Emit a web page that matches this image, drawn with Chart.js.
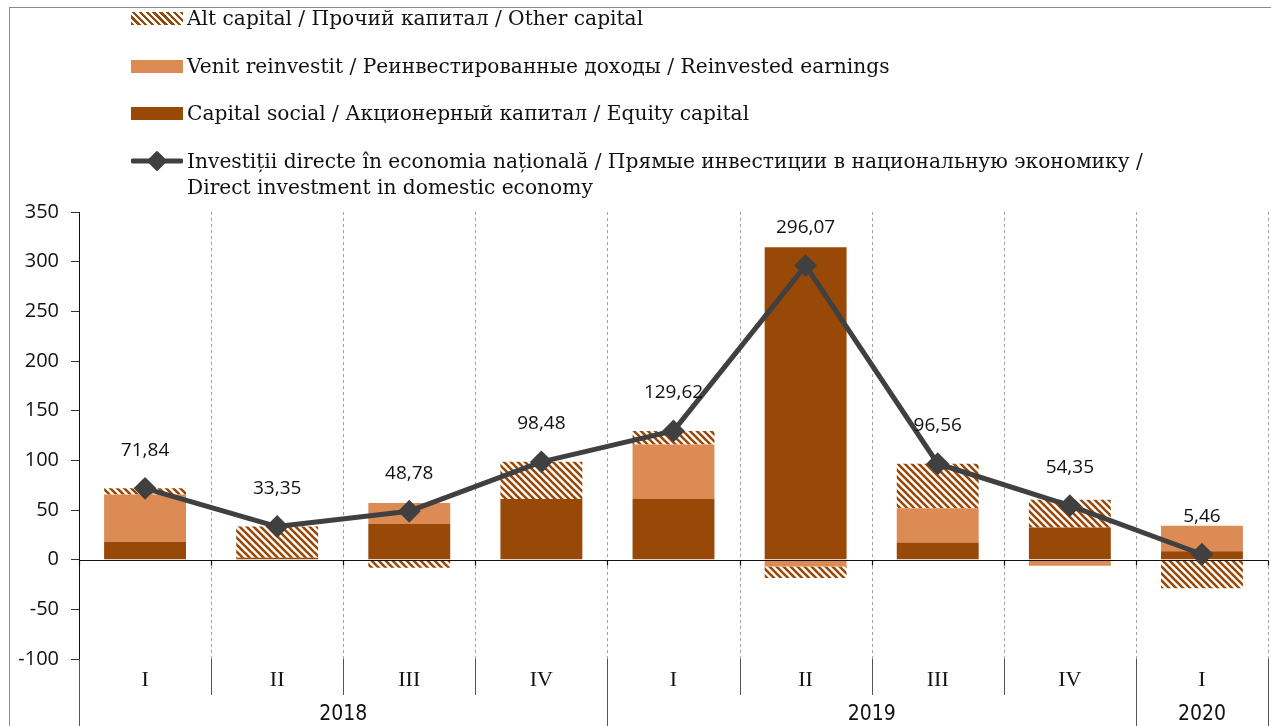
<!DOCTYPE html>
<html lang="ro">
<head>
<meta charset="UTF-8">
<title>Investiții directe în economia națională</title>
<script src="https://cdn.jsdelivr.net/npm/chart.js"></script>
<style>
  html, body { margin: 0; padding: 0; background: #fff; }
  #wrap { position: relative; width: 1271px; height: 726px; overflow: hidden; }
  #frame { position: absolute; left: 9px; top: 7px; width: 1300px; height: 800px;
           border-left: 1px solid #8c8c8c; border-top: 1px solid #8c8c8c; }
  #chart { position: absolute; left: 0; top: 0; }
  .leg { position: absolute; left: 131px; font-family: "DejaVu Serif", serif; font-size: 20.2px;
         line-height: 26px; color: #111; white-space: nowrap; }
  .leg .sw { position: absolute; left: 0; width: 52px; height: 13px; top: 7px; }
  .leg .txt { position: absolute; left: 56px; top: 0; }
  .hatch { background: repeating-linear-gradient(45deg, #984807 0 2.4px, #fff 2.4px 4.8px); }
</style>
</head>
<body>
<div id="wrap">
  <div id="frame"></div>
  <canvas id="chart" width="1271" height="726"></canvas>

  <div class="leg" style="top:5px"><div class="sw hatch"></div>
    <div class="txt">Alt capital / Прочий капитал / Other capital</div></div>
  <div class="leg" style="top:53px"><div class="sw" style="background:#dd8b54"></div>
    <div class="txt">Venit reinvestit / Реинвестированные доходы / Reinvested earnings</div></div>
  <div class="leg" style="top:100px"><div class="sw" style="background:#984807"></div>
    <div class="txt">Capital social / Акционерный капитал / Equity capital</div></div>
  <div class="leg" style="top:148px">
    <svg class="sw" style="height:26px;top:0" width="52" height="26">
      <line x1="2" y1="13" x2="50" y2="13" stroke="#404040" stroke-width="5" stroke-linecap="round"/>
      <polygon points="26,4 35,13 26,22 17,13" fill="#404040" stroke="#404040" stroke-width="2" stroke-linejoin="round"/>
    </svg>
    <div class="txt">Investiții directe în economia națională / Прямые инвестиции в национальную экономику /<br>Direct investment in domestic economy</div></div>
</div>

<script>
// quarters and years
const quarters = ['I', 'II', 'III', 'IV', 'I', 'II', 'III', 'IV', 'I'];
const years = ['2018', '2019', '2020'];
const yearSpans = [4, 4, 1];

// components (mil. USD)
const equityCapital = [18, 2, 36, 61, 61, 314.6, 17.4, 32.5, 8.4];
const reinvestedEarnings = [47.5, 0, 21, 0, 55, -6.8, 34.3, -6, 25.8];
const otherCapital = [6.34, 31.35, -8.22, 37.48, 13.62, -11.73, 44.86, 27.85, -28.74];
const directInvestment = [71.84, 33.35, 48.78, 98.48, 129.62, 296.07, 96.56, 54.35, 5.46];

const yTicks = { min: -100, max: 350, step: 50 };

const sansFont = '"Open Sans", "Liberation Sans", sans-serif';
const serifFont = '"Liberation Serif", serif';
const narrowFont = '"Liberation Sans Narrow", "DejaVu Sans Condensed", sans-serif';

function makeHatch() {
    const c = document.createElement('canvas');
    c.width = 7; c.height = 7;
    const g = c.getContext('2d');
    g.fillStyle = '#fff';
    g.fillRect(0, 0, 7, 7);
    g.strokeStyle = '#984807';
    g.lineWidth = 2.6;
    for (let k = -1; k <= 1; k++) {
        g.beginPath();
        g.moveTo(k * 7 - 1, -1);
        g.lineTo(k * 7 + 8, 8);
        g.stroke();
    }
    return g.createPattern(c, 'repeat');
}

function hline(ctx, x1, y1, x2, y2) {
    ctx.beginPath();
    ctx.moveTo(x1, y1);
    ctx.lineTo(x2, y2);
    ctx.stroke();
}

const quarterAxis = {
    id: 'quarterAxis',
    beforeDatasetsDraw(chart) {
        const { ctx, chartArea: a, scales: { x } } = chart;
        ctx.save();
        ctx.strokeStyle = '#a0a0a0';
        ctx.lineWidth = 1;
        ctx.setLineDash([3, 3]);
        for (let i = 1; i <= quarters.length; i++) {
            const px = Math.round(x.getPixelForValue(i - 0.5)) + 0.5;
            hline(ctx, px, a.top, px, a.bottom);
        }
        ctx.restore();
    },
    beforeDatasetDraw(chart, args) {
        if (args.meta.type !== 'line') return;
        const { ctx, chartArea: a, scales: { x, y } } = chart;
        const y0 = Math.round(y.getPixelForValue(0)) + 0.5;
        ctx.save();
        ctx.strokeStyle = '#111';
        ctx.lineWidth = 1.2;
        hline(ctx, a.left, y0, a.right, y0);
        for (let i = 0; i <= quarters.length; i++) {
            const px = Math.round(x.getPixelForValue(i - 0.5)) + 0.5;
            hline(ctx, px, y0, px, y0 + 5);
        }
        ctx.restore();
    },
    afterDraw(chart) {
        const { ctx, chartArea: a, scales: { x } } = chart;
        const bounds = [0];
        yearSpans.forEach(s => bounds.push(bounds[bounds.length - 1] + s));
        ctx.save();
        ctx.strokeStyle = '#555';
        ctx.lineWidth = 1;
        for (let i = 0; i <= quarters.length; i++) {
            const px = Math.round(x.getPixelForValue(i - 0.5)) + 0.5;
            const bottom = bounds.includes(i) ? chart.height : a.bottom + 36;
            hline(ctx, px, a.bottom, px, bottom);
        }
        ctx.fillStyle = '#111';
        ctx.textAlign = 'center';
        ctx.textBaseline = 'middle';
        ctx.font = '22px ' + serifFont;
        quarters.forEach((q, i) => ctx.fillText(q, x.getPixelForValue(i), a.bottom + 21));
        ctx.font = '21px ' + narrowFont;
        years.forEach((yr, j) => {
            const mid = (bounds[j] + bounds[j + 1] - 1) / 2;
            ctx.fillText(yr, x.getPixelForValue(mid), a.bottom + 56);
        });
        ctx.restore();
    },
    afterDatasetsDraw(chart) {
        const { ctx } = chart;
        const meta = chart.getDatasetMeta(3);
        ctx.save();
        ctx.fillStyle = '#111';
        ctx.textAlign = 'center';
        ctx.textBaseline = 'middle';
        ctx.font = '19px ' + sansFont;
        meta.data.forEach((pt, i) => {
            ctx.fillText(directInvestment[i].toFixed(2).replace('.', ','), pt.x, pt.y - 38);
        });
        ctx.restore();
    }
};

const ctx = document.getElementById('chart').getContext('2d');
const hatch = makeHatch();

new Chart(ctx, {
    type: 'bar',
    data: {
        labels: quarters,
        datasets: [{
            label: 'Capital social / Акционерный капитал / Equity capital',
            data: equityCapital,
            backgroundColor: '#984807',
            order: 1
        }, {
            label: 'Venit reinvestit / Реинвестированные доходы / Reinvested earnings',
            data: reinvestedEarnings,
            backgroundColor: '#dd8b54',
            order: 1
        }, {
            label: 'Alt capital / Прочий капитал / Other capital',
            data: otherCapital,
            backgroundColor: hatch,
            order: 1
        }, {
            type: 'line',
            label: 'Investiții directe în economia națională',
            data: directInvestment,
            borderColor: '#404040',
            borderWidth: 5,
            borderJoinStyle: 'round',
            pointStyle: 'rectRot',
            pointRadius: 10,
            pointBackgroundColor: '#404040',
            pointBorderColor: '#404040',
            pointBorderWidth: 2,
            order: 0
        }]
    },
    options: {
        responsive: false,
        animation: false,
        devicePixelRatio: 1,
        datasets: { bar: { categoryPercentage: 1, barPercentage: 0.62 } },
        layout: { autoPadding: false, padding: { left: 9, right: 3, top: 212, bottom: 67 } },
        plugins: { legend: { display: false }, tooltip: { enabled: false } },
        scales: {
            x: { display: false, stacked: true },
            y: {
                stacked: true,
                min: yTicks.min,
                max: yTicks.max,
                ticks: { stepSize: yTicks.step, color: '#111', padding: 12,
                         font: { family: sansFont, size: 20 } },
                grid: { drawOnChartArea: false, drawTicks: true, tickLength: 8, color: '#333' },
                border: { display: true, color: '#111', width: 1 },
                afterFit(scale) { scale.width = 70; }
            }
        }
    },
    plugins: [quarterAxis]
});
</script>
</body>
</html>
